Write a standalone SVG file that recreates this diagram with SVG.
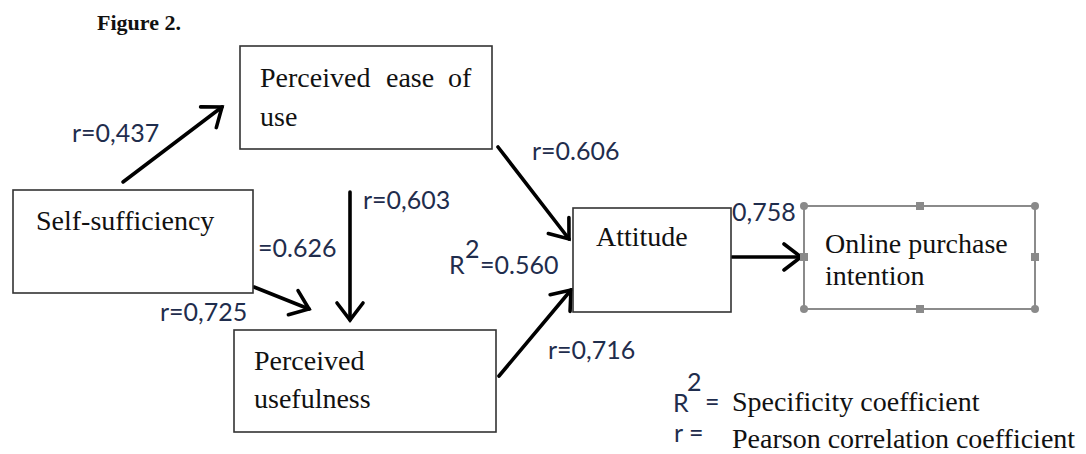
<svg xmlns="http://www.w3.org/2000/svg" width="1086" height="454" viewBox="0 0 1086 454">
<style>
.box{fill:#fff;stroke:#333;stroke-width:1.6}
.sel{fill:#fff;stroke:#6e6e6e;stroke-width:1.6}
.t{font-family:"Liberation Serif","Times New Roman",serif;font-size:28px;fill:#111}
.lab{font-family:Lato,"Liberation Sans",sans-serif;font-size:25px;fill:#1f2d4d}
.con{fill:none;stroke:#000;stroke-width:3.6;stroke-linecap:round}
.h{fill:#8a8a8a}
</style>
<defs>
<marker id="arr" markerUnits="userSpaceOnUse" markerWidth="40" markerHeight="40" viewBox="-30 -20 40 40" refX="0" refY="0" orient="auto">
<path d="M-17,-13 L0,0 L-17,13" fill="none" stroke="#000" stroke-width="3.6" stroke-linecap="round" stroke-linejoin="miter"/>
</marker>
</defs>
<rect width="1086" height="454" fill="#fff"/>
<text x="97" y="30" font-family="Liberation Serif,Times New Roman,serif" font-size="22" font-weight="bold" fill="#111">Figure 2.</text>

<g id="connectors">
<line class="con" x1="123" y1="182" x2="222" y2="107" marker-end="url(#arr)"/>
<line class="con" x1="498" y1="147" x2="569" y2="239" marker-end="url(#arr)"/>
<line class="con" x1="499" y1="376" x2="571" y2="290" marker-end="url(#arr)"/>
<line class="con" x1="254" y1="287" x2="309" y2="309" marker-end="url(#arr)"/>
<line class="con" x1="350" y1="192" x2="350" y2="320" marker-end="url(#arr)"/>
<line class="con" x1="732" y1="257" x2="801" y2="257" marker-end="url(#arr)"/>
</g>

<g id="labels">
<text class="lab" x="72" y="142">r=0,437</text>
<text class="lab" x="363" y="209">r=0,603</text>
<text class="lab" x="258" y="257">=0.626</text>
<text class="lab" x="160" y="321">r=0,725</text>
<text class="lab" x="449" y="274">R</text>
<text class="lab" x="465" y="258">2</text>
<text class="lab" x="480" y="274">=0.560</text>
<text class="lab" x="532" y="160">r=0.606</text>
<text class="lab" x="548" y="359">r=0,716</text>
<text class="lab" x="732" y="221">0,758</text>
</g>

<g id="node-peou">
<rect class="box" x="240" y="46" width="252" height="103"/>
<text class="t" y="87"><tspan x="260">Perceived</tspan><tspan x="386">ease</tspan><tspan x="448">of</tspan></text>
<text class="t" x="260" y="126">use</text>
</g>

<g id="node-self">
<rect class="box" x="13" y="190" width="240" height="103"/>
<text class="t" x="36" y="230">Self-sufficiency</text>
</g>

<g id="node-pu">
<rect class="box" x="234" y="330" width="262" height="102"/>
<text class="t" x="254" y="370">Perceived</text>
<text class="t" x="254" y="408">usefulness</text>
</g>

<g id="node-attitude">
<rect class="box" x="573" y="208" width="158" height="104"/>
<text class="t" x="596" y="246">Attitude</text>
</g>

<g id="node-online">
<rect class="sel" x="804" y="206" width="231" height="103"/>
<text class="t" x="825" y="253">Online purchase</text>
<text class="t" x="825" y="285">intention</text>
<circle class="h" cx="804" cy="206" r="4"/>
<circle class="h" cx="1035" cy="206" r="4"/>
<circle class="h" cx="804" cy="309" r="4"/>
<circle class="h" cx="1035" cy="309" r="4"/>
<rect class="h" x="916" y="202" width="8" height="8"/>
<rect class="h" x="916" y="305" width="8" height="8"/>
<rect class="h" x="800" y="253" width="8" height="8"/>
<rect class="h" x="1031" y="253" width="8" height="8"/>
</g>

<g id="legend">
<text class="lab" x="673" y="412">R</text>
<text class="lab" x="687" y="391">2</text>
<text class="lab" x="705" y="411" font-size="15">=</text>
<text class="t" x="732" y="411">Specificity coefficient</text>
<text class="lab" x="674" y="442">r =</text>
<text class="t" x="732" y="448">Pearson correlation coefficient</text>
</g>
</svg>
